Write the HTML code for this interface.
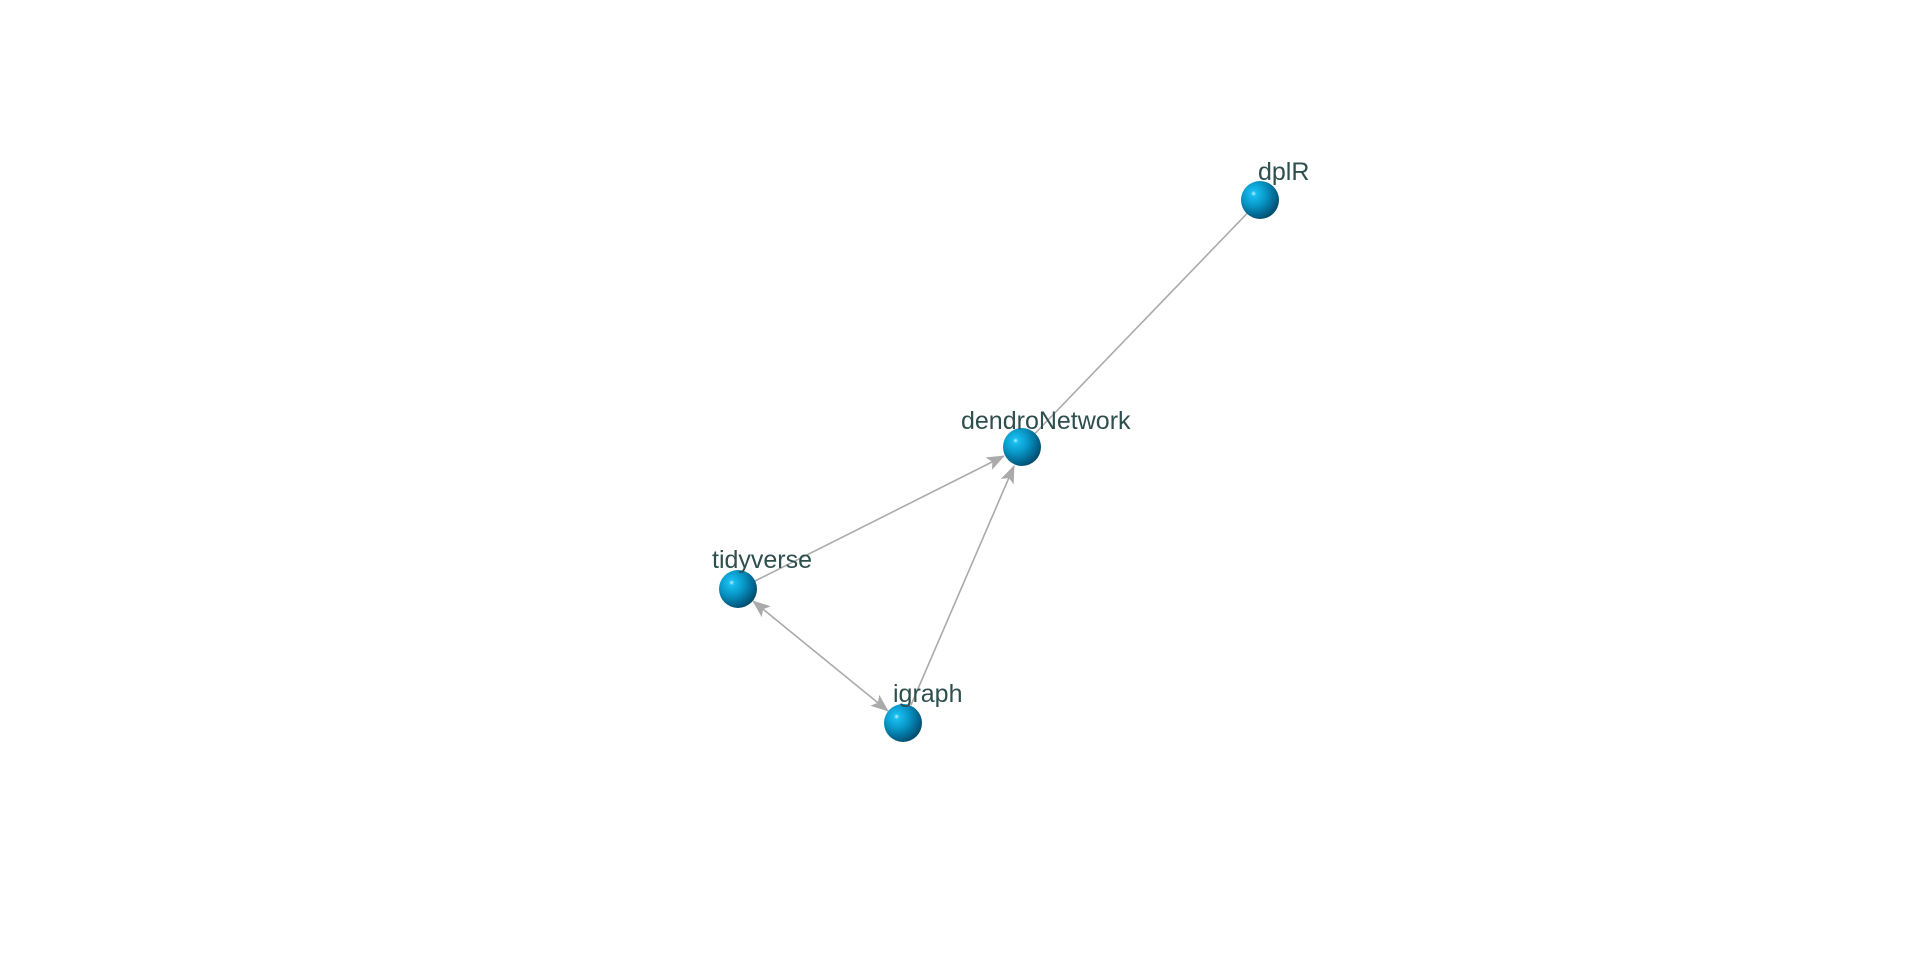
<!DOCTYPE html>
<html><head><meta charset="utf-8"><style>
html,body{margin:0;padding:0;background:#fff;}
svg{display:block}
text{font-family:"Liberation Sans",Arial,sans-serif;font-size:25px;fill:#2f4f4f;}
</style></head><body>
<svg width="1920" height="960" viewBox="0 0 1920 960" xmlns="http://www.w3.org/2000/svg">
<defs>
<radialGradient id="g" cx="0.35" cy="0.35" r="0.7" fx="0.33" fy="0.33">
<stop offset="0" stop-color="#bff0ff"/>
<stop offset="0.1" stop-color="#19bdf0"/>
<stop offset="0.45" stop-color="#0898c8"/>
<stop offset="0.8" stop-color="#036690"/>
<stop offset="1" stop-color="#024b68"/>
</radialGradient>
<marker id="a" markerWidth="18" markerHeight="14" refX="17" refY="7" orient="auto" markerUnits="userSpaceOnUse">
<path d="M0,0 L18,7 L0,14 L4,7 Z" fill="#aaaaaa"/>
</marker>
<marker id="b" markerWidth="18" markerHeight="14" refX="1" refY="7" orient="auto" markerUnits="userSpaceOnUse">
<path d="M18,0 L0,7 L18,14 L14,7 Z" fill="#aaaaaa"/>
</marker>
</defs>
<g stroke="#aaaaaa" stroke-width="1.6" fill="none">
<line x1="1260" y1="200" x2="1022" y2="447"/>
<line x1="755" y1="581" x2="1004" y2="456" marker-end="url(#a)"/>
<line x1="911" y1="705" x2="1014" y2="466" marker-end="url(#a)"/>
<line x1="753" y1="601" x2="888" y2="711" marker-start="url(#b)" marker-end="url(#a)"/>
</g>
<circle cx="1260" cy="200" r="19" fill="url(#g)"/>
<circle cx="1022" cy="447" r="19" fill="url(#g)"/>
<circle cx="738" cy="589" r="19" fill="url(#g)"/>
<circle cx="903" cy="723" r="19" fill="url(#g)"/>
<text x="1258" y="180">dplR</text>
<text x="961" y="429">dendroNetwork</text>
<text x="712" y="568">tidyverse</text>
<text x="893" y="702">igraph</text>
</svg>
</body></html>
